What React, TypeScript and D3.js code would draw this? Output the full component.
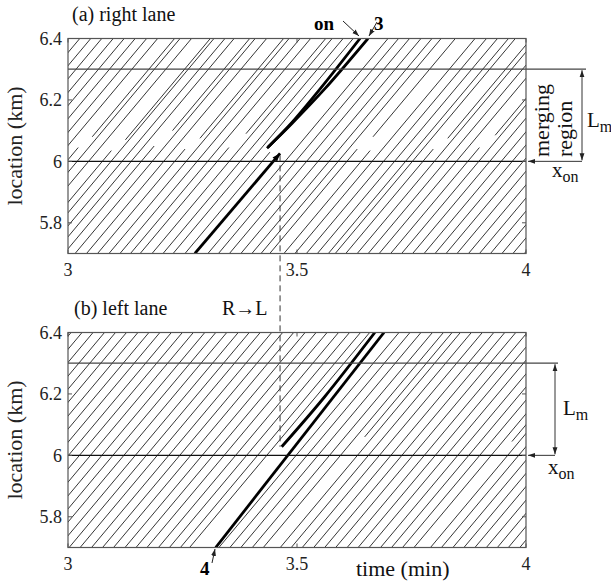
import React from 'react';
import * as d3 from 'd3';

// ---------- data ----------
const timeDomain: [number, number] = [3, 4];
const locDomain: [number, number] = [5.7, 6.4];
const timeTicks = [3, 3.5, 4];
const locTicks = [5.8, 6, 6.2, 6.4];
const xOn = 6.0; // start of merging region (km)
const mergeEnd = 6.3; // end of merging region (km)
const freeSpeed = 1.78; // km/min, slope of background trajectories
const laneChangeTime = 3.463; // R -> L of vehicle 3

// right lane: time (min) at which each through vehicle passes 6.0 km
const rightLaneThrough = [
  2.776, 2.801, 2.825, 2.849, 2.874, 2.898, 2.922, 2.947, 2.971, 3.02, 3.045, 3.094, 3.118,
  3.138, 3.184, 3.209, 3.258, 3.282, 3.305, 3.352, 3.376, 3.398, 3.474, 3.497, 3.521, 3.546,
  3.57, 3.59, 3.664, 3.689, 3.713, 3.737, 3.752, 3.8, 3.824, 3.848, 3.897, 3.921, 3.946, 3.97,
  4.018, 4.043, 4.067, 4.116, 4.14, 4.165,
];
// right lane: vehicles leaving the lane [time at 6.0 km, last location]
const rightLaneExits: [number, number][] = [
  [2.997, 6.045], [3.075, 6.035], [3.16, 6.05], [3.233, 6.04], [3.326, 6.045], [3.424, 6.03],
  [3.609, 6.04], [3.64, 6.035], [3.775, 6.04], [3.873, 6.045], [3.994, 6.04], [4.091, 6.05],
];
// right lane: vehicles entering the lane [time at 6.0 km, first location]
const rightLaneEnters: [number, number][] = [
  [3.008, 6.08], [3.086, 6.07], [3.172, 6.1], [3.246, 6.075], [3.338, 6.09], [3.621, 6.08],
  [3.787, 6.075], [3.885, 6.085], [4.006, 6.07], [4.103, 6.08],
];

// left lane
const leftLaneThrough = [
  2.782, 2.806, 2.83, 2.855, 2.879, 2.903, 2.928, 2.952, 2.976, 3.001, 3.025, 3.049, 3.074,
  3.098, 3.122, 3.147, 3.171, 3.195, 3.22, 3.244, 3.268, 3.293, 3.317, 3.341, 3.366, 3.39,
  3.414, 3.434, 3.498, 3.522, 3.546, 3.571, 3.595, 3.632, 3.656, 3.68, 3.705, 3.729, 3.753,
  3.778, 3.802, 3.826, 3.851, 3.875, 3.899, 3.924, 3.96, 3.984, 4.009, 4.033, 4.057, 4.082,
  4.106, 4.13, 4.155,
];
const leftLaneEnters: [number, number][] = [
  [3.614, 6.06], [3.944, 6.045],
];

// highlighted vehicles [time, location]
const vehicle3Right: [number, number][] = [[3.277, 5.7], [3.463, 6.026]];
const vehicleOn: [number, number][] = [[3.4345, 6.043], [3.485, 6.12], [3.55, 6.235], [3.6376, 6.4]];
const vehicle3RightUpper: [number, number][] = [[3.437, 6.047], [3.49, 6.125], [3.56, 6.235], [3.655, 6.4]];
const vehicle4Left: [number, number][] = [[3.3225, 5.7], [3.69, 6.4]];
const vehicle3Left: [number, number][] = [[3.4666, 6.028], [3.56, 6.19], [3.67, 6.4]];

// ---------- layout ----------
const W = 611;
const H = 587;
const LEFT = 68;
const RIGHT = 526;
const FONT = "'Liberation Serif', 'Times New Roman', serif";

type Pt = [number, number];

function throughSeg(t6: number, from: number, to: number): Pt[] {
  return [
    [t6 + (from - xOn) / freeSpeed, from],
    [t6 + (to - xOn) / freeSpeed, to],
  ];
}

function Panel(props: {
  id: string;
  top: number;
  bottom: number;
  through: number[];
  exits: [number, number][];
  enters: [number, number][];
  thick: Pt[][];
  annoX: number;
  mergeLineEnd: number;
}) {
  const { id, top, bottom, through, exits, enters, thick, annoX, mergeLineEnd } = props;
  const x = d3.scaleLinear().domain(timeDomain).range([LEFT, RIGHT]);
  const y = d3.scaleLinear().domain(locDomain).range([bottom, top]);
  const straight = d3.line<Pt>().x((d) => x(d[0])).y((d) => y(d[1]));
  const curved = d3.line<Pt>().x((d) => x(d[0])).y((d) => y(d[1])).curve(d3.curveCatmullRom);

  const segs: Pt[][] = [];
  through.forEach((t) => segs.push(throughSeg(t, 5.5, 6.6)));
  exits.forEach(([t, e]) => segs.push(throughSeg(t, 5.5, e)));
  enters.forEach(([t, s]) => segs.push(throughSeg(t, s, 6.6)));

  const frame = '#555';
  return (
    <g>
      <defs>
        <clipPath id={`clip-${id}`}>
          <rect x={LEFT} y={top} width={RIGHT - LEFT} height={bottom - top} />
        </clipPath>
      </defs>
      <g clipPath={`url(#clip-${id})`}>
        {segs.map((s, i) => (
          <path key={i} d={straight(s) || ''} fill="none" stroke="#111" strokeWidth={0.85} />
        ))}
        {thick.map((s, i) => (
          <path key={'t' + i} d={curved(s) || ''} fill="none" stroke="#000" strokeWidth={2.8} />
        ))}
      </g>
      {/* merging region boundaries */}
      <line x1={LEFT} x2={mergeLineEnd} y1={y(mergeEnd)} y2={y(mergeEnd)} stroke="#444" strokeWidth={1.2} />
      <line x1={LEFT} x2={RIGHT} y1={y(xOn)} y2={y(xOn)} stroke="#111" strokeWidth={1.1} />
      {/* frame */}
      <rect x={LEFT} y={top} width={RIGHT - LEFT} height={bottom - top} fill="none" stroke={frame} strokeWidth={1.2} />
      {/* ticks */}
      {locTicks.map((v) => (
        <g key={'yl' + v}>
          <line x1={LEFT} x2={LEFT + 4} y1={y(v)} y2={y(v)} stroke={frame} />
          <line x1={RIGHT} x2={RIGHT - 4} y1={y(v)} y2={y(v)} stroke={frame} />
          <text x={LEFT - 6} y={y(v)} dy="0.35em" textAnchor="end" fontSize={18} fontFamily={FONT} fill="#222">
            {d3.format('~g')(v)}
          </text>
        </g>
      ))}
      {timeTicks.map((v) => (
        <g key={'xt' + v}>
          <line x1={x(v)} x2={x(v)} y1={bottom} y2={bottom - 4} stroke={frame} />
          <line x1={x(v)} x2={x(v)} y1={top} y2={top + 4} stroke={frame} />
          <text x={x(v)} y={bottom + 22} textAnchor="middle" fontSize={18} fontFamily={FONT} fill="#222">
            {d3.format('~g')(v)}
          </text>
        </g>
      ))}
      {/* axis title */}
      <text
        transform={`translate(22,${(top + bottom) / 2}) rotate(-90)`}
        textAnchor="middle"
        fontSize={22}
        fontFamily={FONT}
        fill="#222"
      >
        location (km)
      </text>
      {/* L_m and x_on markers */}
      <line x1={annoX} x2={annoX} y1={y(mergeEnd) + 1} y2={y(xOn) - 1} stroke="#333" strokeWidth={1} markerStart="url(#ah)" markerEnd="url(#ah)" />
      <line x1={annoX} x2={RIGHT + 2} y1={y(xOn)} y2={y(xOn)} stroke="#333" strokeWidth={1} markerEnd="url(#ah)" />
    </g>
  );
}

export default function App() {
  const x = d3.scaleLinear().domain(timeDomain).range([LEFT, RIGHT]);
  const yA = d3.scaleLinear().domain(locDomain).range([253.5, 38.5]);
  const yB = d3.scaleLinear().domain(locDomain).range([547.5, 332.5]);
  const endA = vehicle3Right[vehicle3Right.length - 1];
  const startB = vehicle3Left[0];
  const arrowPath = (p: Pt, q: Pt, yS: d3.ScaleLinear<number, number>) => {
    const x1 = x(p[0]);
    const y1 = yS(p[1]);
    const x0 = x(q[0]);
    const y0 = yS(q[1]);
    const a = Math.atan2(y1 - y0, x1 - x0);
    const L = 8;
    const w = 3;
    const bx = x1 - L * Math.cos(a);
    const by = y1 - L * Math.sin(a);
    return `M${x1},${y1}L${bx + w * Math.sin(a)},${by - w * Math.cos(a)}L${bx - w * Math.sin(a)},${by + w * Math.cos(a)}Z`;
  };
  const sub = (main: string, s: string, xx: number, yy: number) => (
    <text x={xx} y={yy} fontSize={21} fontFamily={FONT} fill="#111">
      {main}
      <tspan fontSize={16} dy={5}>{s}</tspan>
    </text>
  );
  return (
    <svg width={W} height={H} style={{ position: 'absolute', left: 0, top: 0, background: '#fff' }}>
      <defs>
        <marker id="ah" viewBox="0 0 10 10" refX="10" refY="5" markerWidth="7" markerHeight="7" orient="auto-start-reverse" markerUnits="userSpaceOnUse">
          <path d="M0,1.5 L10,5 L0,8.5 Z" fill="#222" />
        </marker>
      </defs>
      <rect width={W} height={H} fill="#fff" />
      <Panel
        id="a"
        top={38.5}
        bottom={253.5}
        through={rightLaneThrough}
        exits={rightLaneExits}
        enters={rightLaneEnters}
        thick={[vehicle3Right, vehicleOn, vehicle3RightUpper]}
        annoX={582}
        mergeLineEnd={586}
      />
      <Panel
        id="b"
        top={332.5}
        bottom={547.5}
        through={leftLaneThrough}
        exits={[]}
        enters={leftLaneEnters}
        thick={[vehicle4Left, vehicle3Left]}
        annoX={555}
        mergeLineEnd={558}
      />
      {/* arrow at end of vehicle 3 in right lane */}
      <path d={arrowPath(endA, vehicle3Right[0], yA)} fill="#000" />
      {/* lane change dashed line */}
      <line
        x1={x(laneChangeTime)}
        x2={x(laneChangeTime)}
        y1={yA(endA[1]) + 2}
        y2={yB(startB[1])}
        stroke="#333"
        strokeWidth={1}
        strokeDasharray="6,4"
      />
      {/* panel titles */}
      <text x={72} y={21} fontSize={20} fontFamily={FONT} fill="#111">(a) right lane</text>
      <text x={74} y={315} fontSize={20} fontFamily={FONT} fill="#111">(b) left lane</text>
      <text x={222} y={315} fontSize={20} fontFamily={FONT} fill="#111">R→L</text>
      {/* vehicle labels */}
      <text x={314} y={30} fontSize={19} fontWeight="bold" fontFamily={FONT} fill="#000">on</text>
      <line x1={343} y1={21} x2={359} y2={36} stroke="#222" strokeWidth={1} markerEnd="url(#ah)" />
      <text x={374} y={30} fontSize={19} fontWeight="bold" fontFamily={FONT} fill="#000">3</text>
      <line x1={377} y1={22} x2={369} y2={36} stroke="#222" strokeWidth={1} markerEnd="url(#ah)" />
      <text x={200} y={575} fontSize={19} fontWeight="bold" fontFamily={FONT} fill="#000">4</text>
      <line x1={212} y1={563} x2={215} y2={549} stroke="#222" strokeWidth={1} markerEnd="url(#ah)" />
      {/* merging region label */}
      <text transform={`translate(549,157) rotate(-90)`} fontSize={22} fontFamily={FONT} fill="#111">merging</text>
      <text transform={`translate(572,157) rotate(-90)`} fontSize={22} fontFamily={FONT} fill="#111">region</text>
      {sub('L', 'm', 587, 127)}
      {sub('x', 'on', 552, 177)}
      {sub('L', 'm', 563, 415)}
      {sub('x', 'on', 548, 474)}
      {/* x axis title */}
      <text x={356} y={576} fontSize={22} fontFamily={FONT} fill="#111">time (min)</text>
    </svg>
  );
}
